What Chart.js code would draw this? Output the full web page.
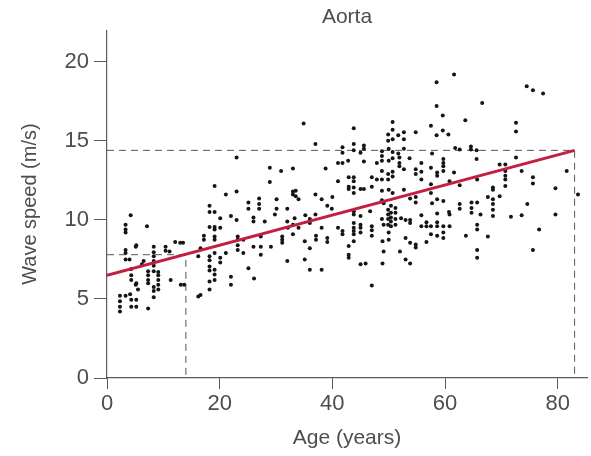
<!DOCTYPE html>
<html>
<head>
<meta charset="utf-8">
<script src="https://cdn.jsdelivr.net/npm/chart.js@4.4.1/dist/chart.umd.min.js"></script>
<style>
  html, body { margin: 0; padding: 0; background: #fff; }
  #wrap { width: 591px; height: 456px; }
</style>
</head>
<body>
<div id="wrap"><canvas id="aorta"></canvas></div>
<script>
// wave speed readings, [age (years), speed (m/s)]
const band0to16 = [
  [4.2,10.3],[3.3,9.7],[3.3,9.4],[3.3,9.2],[7.1,9.6],[5.2,8.4],[8.3,8.3],[10.4,8.3],[10.4,8.05],
  [12.1,8.6],[13.0,8.55],[13.5,8.55],[3.3,8.1],[3.3,7.9],[3.3,7.5],[4.0,7.5],[8.3,7.95],[8.3,7.7],
  [8.3,7.4],[11.1,8.0],[6.5,7.4],[16.2,7.7],[4.3,6.9],[4.3,6.5],[4.3,6.2],[5.2,6.0],[7.3,6.75],
  [7.3,6.5],[7.3,6.2],[7.3,6.0],[8.3,7.1],[8.3,6.75],[9.1,6.7],[9.1,6.5],[9.1,6.2],[9.1,5.9],
  [9.1,5.6],[11.3,6.2],[8.3,5.75],[8.3,5.5],[8.3,5.1],[13.1,5.9],[13.7,5.9],[16.2,5.15],[2.3,5.2],
  [2.3,4.85],[2.3,4.5],[2.3,4.2],[3.3,5.2],[4.1,5.3],[4.3,4.95],[5.2,4.95],[4.3,4.5],[5.2,4.5],
  [7.3,4.4],[5.5,5.6],[5.1,8.3],[5.1,5.9],[6.2,7.2]
];
const band16to33 = [
  [23.0,13.95],[28.9,13.3],[30.9,13.1],[33.0,13.25],[28.9,12.4],[33.0,11.8],[33.0,11.6],[19.1,12.15],
  [23.0,11.8],[21.1,11.6],[25.1,11.1],[25.1,10.7],[27.0,11.35],[27.0,11.0],[27.0,10.7],[30.1,11.3],
  [30.1,10.7],[32.0,10.7],[18.2,10.9],[18.2,10.5],[19.1,10.5],[20.1,10.1],[22.0,10.25],[23.0,10.0],
  [26.0,10.15],[26.0,9.9],[28.0,9.9],[29.8,10.35],[32.0,9.9],[33.3,10.1],[18.2,9.55],[19.1,9.55],
  [19.1,9.4],[20.1,9.5],[17.2,9.0],[17.2,8.75],[19.1,8.95],[19.1,8.75],[23.2,8.95],[23.2,8.75],
  [24.2,8.75],[27.3,8.95],[31.1,8.95],[31.1,8.75],[31.1,8.55],[32.1,9.5],[29.1,8.3],[16.6,8.2],
  [18.2,7.7],[18.2,7.45],[18.2,7.05],[18.2,6.8],[19.1,7.9],[19.1,6.85],[19.1,6.55],[19.1,6.2],
  [20.1,7.6],[20.1,7.3],[21.1,7.9],[23.2,8.4],[23.2,8.1],[26.0,8.3],[27.3,8.3],[27.3,7.8],[24.2,7.9],
  [25.1,6.95],[26.1,6.3],[22.0,6.4],[22.0,5.9],[18.2,6.1],[18.2,5.6],[32.0,7.4],[16.6,5.25]
];
const band33to50 = [
  [34.9,16.1],[43.8,15.8],[37.0,14.8],[41.8,14.6],[41.8,14.25],[43.8,14.8],[43.8,14.4],[45.6,14.7],
  [45.6,14.5],[45.0,14.25],[48.8,14.35],[48.8,14.05],[49.9,15.4],[49.9,15.0],[41.0,13.6],[41.8,13.6],
  [42.8,13.75],[45.6,13.7],[47.9,13.6],[48.8,13.75],[48.8,13.1],[38.8,13.25],[42.9,12.7],[43.8,12.7],
  [43.8,12.45],[41.0,12.45],[47.0,12.7],[47.9,12.55],[42.9,12.1],[42.9,11.95],[43.8,12.05],[43.8,11.7],
  [45.0,11.95],[45.6,11.95],[47.0,12.1],[48.8,12.55],[48.8,11.85],[49.9,12.9],[49.9,12.55],[33.5,11.85],
  [33.5,11.5],[34.0,11.3],[37.0,11.6],[38.1,11.3],[39.1,10.9],[40.0,11.45],[39.9,10.7],[43.8,10.55],
  [43.8,10.35],[45.0,10.25],[46.7,10.55],[48.8,11.25],[49.1,11.05],[49.9,10.65],[49.9,10.35],[49.9,10.05],
  [49.9,9.7],[35.2,10.3],[36.0,10.05],[36.0,9.8],[37.0,10.35],[33.0,9.7],[33.0,9.1],[34.0,9.5],[38.1,9.5],
  [41.0,9.5],[41.8,9.3],[41.8,9.1],[43.8,9.8],[43.8,9.5],[43.8,9.3],[43.8,9.1],[45.0,9.7],[45.0,9.5],
  [47.0,9.6],[47.0,9.35],[48.8,10.05],[49.1,9.7],[47.0,9.0],[48.9,8.65],[45.0,9.2],[37.1,9.0],[37.1,8.75],
  [39.1,8.85],[39.1,8.6],[35.1,8.65],[36.0,8.2],[42.9,8.35],[42.9,7.8],[42.9,7.6],[43.8,8.65],[49.1,8.0],
  [35.1,7.5],[36.0,6.85],[38.1,6.85],[45.0,7.2],[45.9,7.25],[48.9,7.25],[47.0,5.85]
];
const band50to66 = [
  [61.6,19.2],[58.5,18.7],[58.5,17.2],[66.6,17.4],[59.6,16.6],[63.6,16.3],[50.7,16.2],[50.7,15.7],
  [50.7,15.1],[51.7,15.35],[52.7,15.55],[52.7,15.1],[54.8,15.55],[57.5,15.95],[58.5,15.35],[59.6,15.65],
  [60.6,15.4],[50.0,14.5],[50.7,14.3],[51.7,14.2],[52.7,14.5],[57.7,14.2],[61.8,14.55],[62.6,14.45],
  [64.6,14.65],[64.6,14.45],[65.6,14.4],[65.6,13.85],[50.7,13.9],[51.9,13.95],[51.9,13.6],[51.9,13.4],
  [52.7,13.2],[53.7,13.9],[54.8,13.2],[54.8,12.9],[55.8,13.6],[57.5,13.3],[59.7,13.85],[59.7,13.6],
  [59.7,13.4],[59.7,13.1],[58.6,13.0],[58.6,12.8],[61.6,13.0],[50.7,13.05],[50.7,12.75],[50.0,13.75],
  [55.8,13.05],[55.8,12.55],[57.5,12.25],[60.8,12.45],[62.6,12.2],[65.7,12.55],[50.0,11.9],[50.7,11.7],
  [52.7,11.9],[53.8,11.35],[54.8,11.45],[54.8,11.1],[57.5,11.7],[57.7,11.05],[58.6,11.3],[59.7,11.2],
  [60.7,10.5],[62.6,11.0],[62.6,10.7],[64.7,11.1],[64.7,10.75],[64.7,10.45],[65.7,11.1],[50.4,10.9],
  [51.2,10.75],[50.4,10.45],[51.2,10.45],[50.4,10.15],[50.4,9.9],[50.4,9.6],[51.2,10.05],[51.2,9.7],
  [52.2,10.1],[53.0,10.0],[53.8,10.0],[53.8,9.8],[55.8,10.3],[55.8,9.6],[56.7,9.85],[56.7,9.6],[57.5,9.6],
  [58.6,9.85],[58.6,9.6],[58.6,10.4],[60.8,10.35],[59.7,9.6],[59.7,9.2],[60.8,9.6],[57.5,9.1],[58.6,9.0],
  [59.7,8.85],[63.7,9.0],[65.7,9.7],[65.7,9.4],[53.0,8.85],[53.8,8.55],[54.8,8.45],[54.8,8.25],[52.0,8.0],
  [53.0,7.5],[53.8,7.25],[65.7,8.1],[65.7,7.6],[50.0,9.2],[50.0,8.75],[56.7,8.6]
];
const band66to84 = [
  [74.5,18.45],[75.6,18.2],[77.4,18.0],[72.6,16.15],[72.6,15.6],[72.6,13.95],[69.7,13.5],[70.7,13.5],
  [70.7,13.1],[70.7,12.8],[70.7,12.55],[70.7,12.15],[73.6,13.1],[75.6,12.7],[75.6,12.3],[81.6,13.1],
  [68.5,12.05],[68.5,11.9],[68.5,11.3],[67.6,11.45],[69.7,11.5],[68.5,11.0],[83.6,11.6],[79.6,12.0],
  [74.6,11.0],[66.3,10.35],[68.5,10.65],[68.5,10.25],[71.7,10.2],[73.6,10.3],[79.6,10.35],[67.6,8.95],
  [76.7,9.4],[75.6,8.1]
];

// regression line ends and the two read-off guides
const fitAges = [0, 83];
const fitSpeeds = [6.5, 14.4];
const guideAges = [14, 83];
const guideSpeeds = [7.8, 14.4];

const allPoints = [].concat(band0to16, band16to33, band33to50, band50to66, band66to84)
  .map(p => ({ x: p[0], y: p[1] }));

const fitLine = fitAges.map((a, i) => ({ x: a, y: fitSpeeds[i] }));

// dashed guides: from the y axis across to the line, then down to the x axis
function guide(i) {
  return [
    { x: 0, y: guideSpeeds[i] },
    { x: guideAges[i], y: guideSpeeds[i] },
    { x: guideAges[i], y: 0 },
  ];
}

const family = "'Liberation Sans', Arial, sans-serif";
const tickFont = { family: family, size: 22 };
const labelFont = { family: family, size: 20 };
const textColor = "#4d4d4d";
const axisColor = "#5a5a5a";

const guideStyle = {
  type: "line",
  showLine: true,
  borderColor: "#555",
  borderWidth: 1,
  borderDash: [7, 5],
  pointRadius: 0,
  fill: false,
  order: 2,
};

const ctx = document.getElementById("aorta").getContext("2d");
new Chart(ctx, {
  type: "scatter",
  data: {
    datasets: [
      Object.assign({ label: "guide14", data: guide(0) }, guideStyle),
      Object.assign({ label: "guide83", data: guide(1) }, guideStyle),
      {
        label: "Aorta",
        data: allPoints,
        pointRadius: 2,
        pointBorderWidth: 0,
        pointBackgroundColor: "#151515",
        order: 1,
      },
      {
        type: "line",
        label: "fit",
        data: fitLine,
        showLine: true,
        borderColor: "rgb(196, 30, 62)",
        borderWidth: 3,
        pointRadius: 0,
        fill: false,
        order: 0,
      },
    ],
  },
  options: {
    responsive: true,
    maintainAspectRatio: false,
    animation: false,
    layout: { padding: 0 },
    plugins: {
      legend: { display: false },
      tooltip: { enabled: false },
      title: {
        display: true,
        text: "Aorta",
        fullSize: false,
        color: textColor,
        font: { family: family, size: 21, weight: "normal" },
        padding: { top: 5, bottom: 0 },
      },
    },
    scales: {
      x: {
        type: "linear",
        min: 0,
        max: 85.2,
        afterFit: (s) => { s.height = 78; },
        ticks: { stepSize: 20, includeBounds: false, font: tickFont, color: textColor, padding: 2, maxRotation: 0 },
        grid: { drawOnChartArea: false, drawTicks: true, tickLength: 11, color: axisColor },
        border: { color: axisColor, width: 1.2 },
        title: { display: true, text: "Age (years)", font: { family: family, size: 21 }, color: textColor, padding: { top: 0, bottom: 5 } },
      },
      y: {
        min: 0,
        max: 22,
        afterFit: (s) => { s.width = 107; },
        ticks: { stepSize: 5, includeBounds: false, font: tickFont, color: textColor, padding: 5 },
        grid: { drawOnChartArea: false, drawTicks: true, tickLength: 13, color: axisColor },
        border: { color: axisColor, width: 1.2 },
        title: { display: true, text: "Wave speed (m/s)", font: labelFont, color: textColor, padding: { top: 18, bottom: 0 } },
      },
    },
  },
});
</script>
</body>
</html>
